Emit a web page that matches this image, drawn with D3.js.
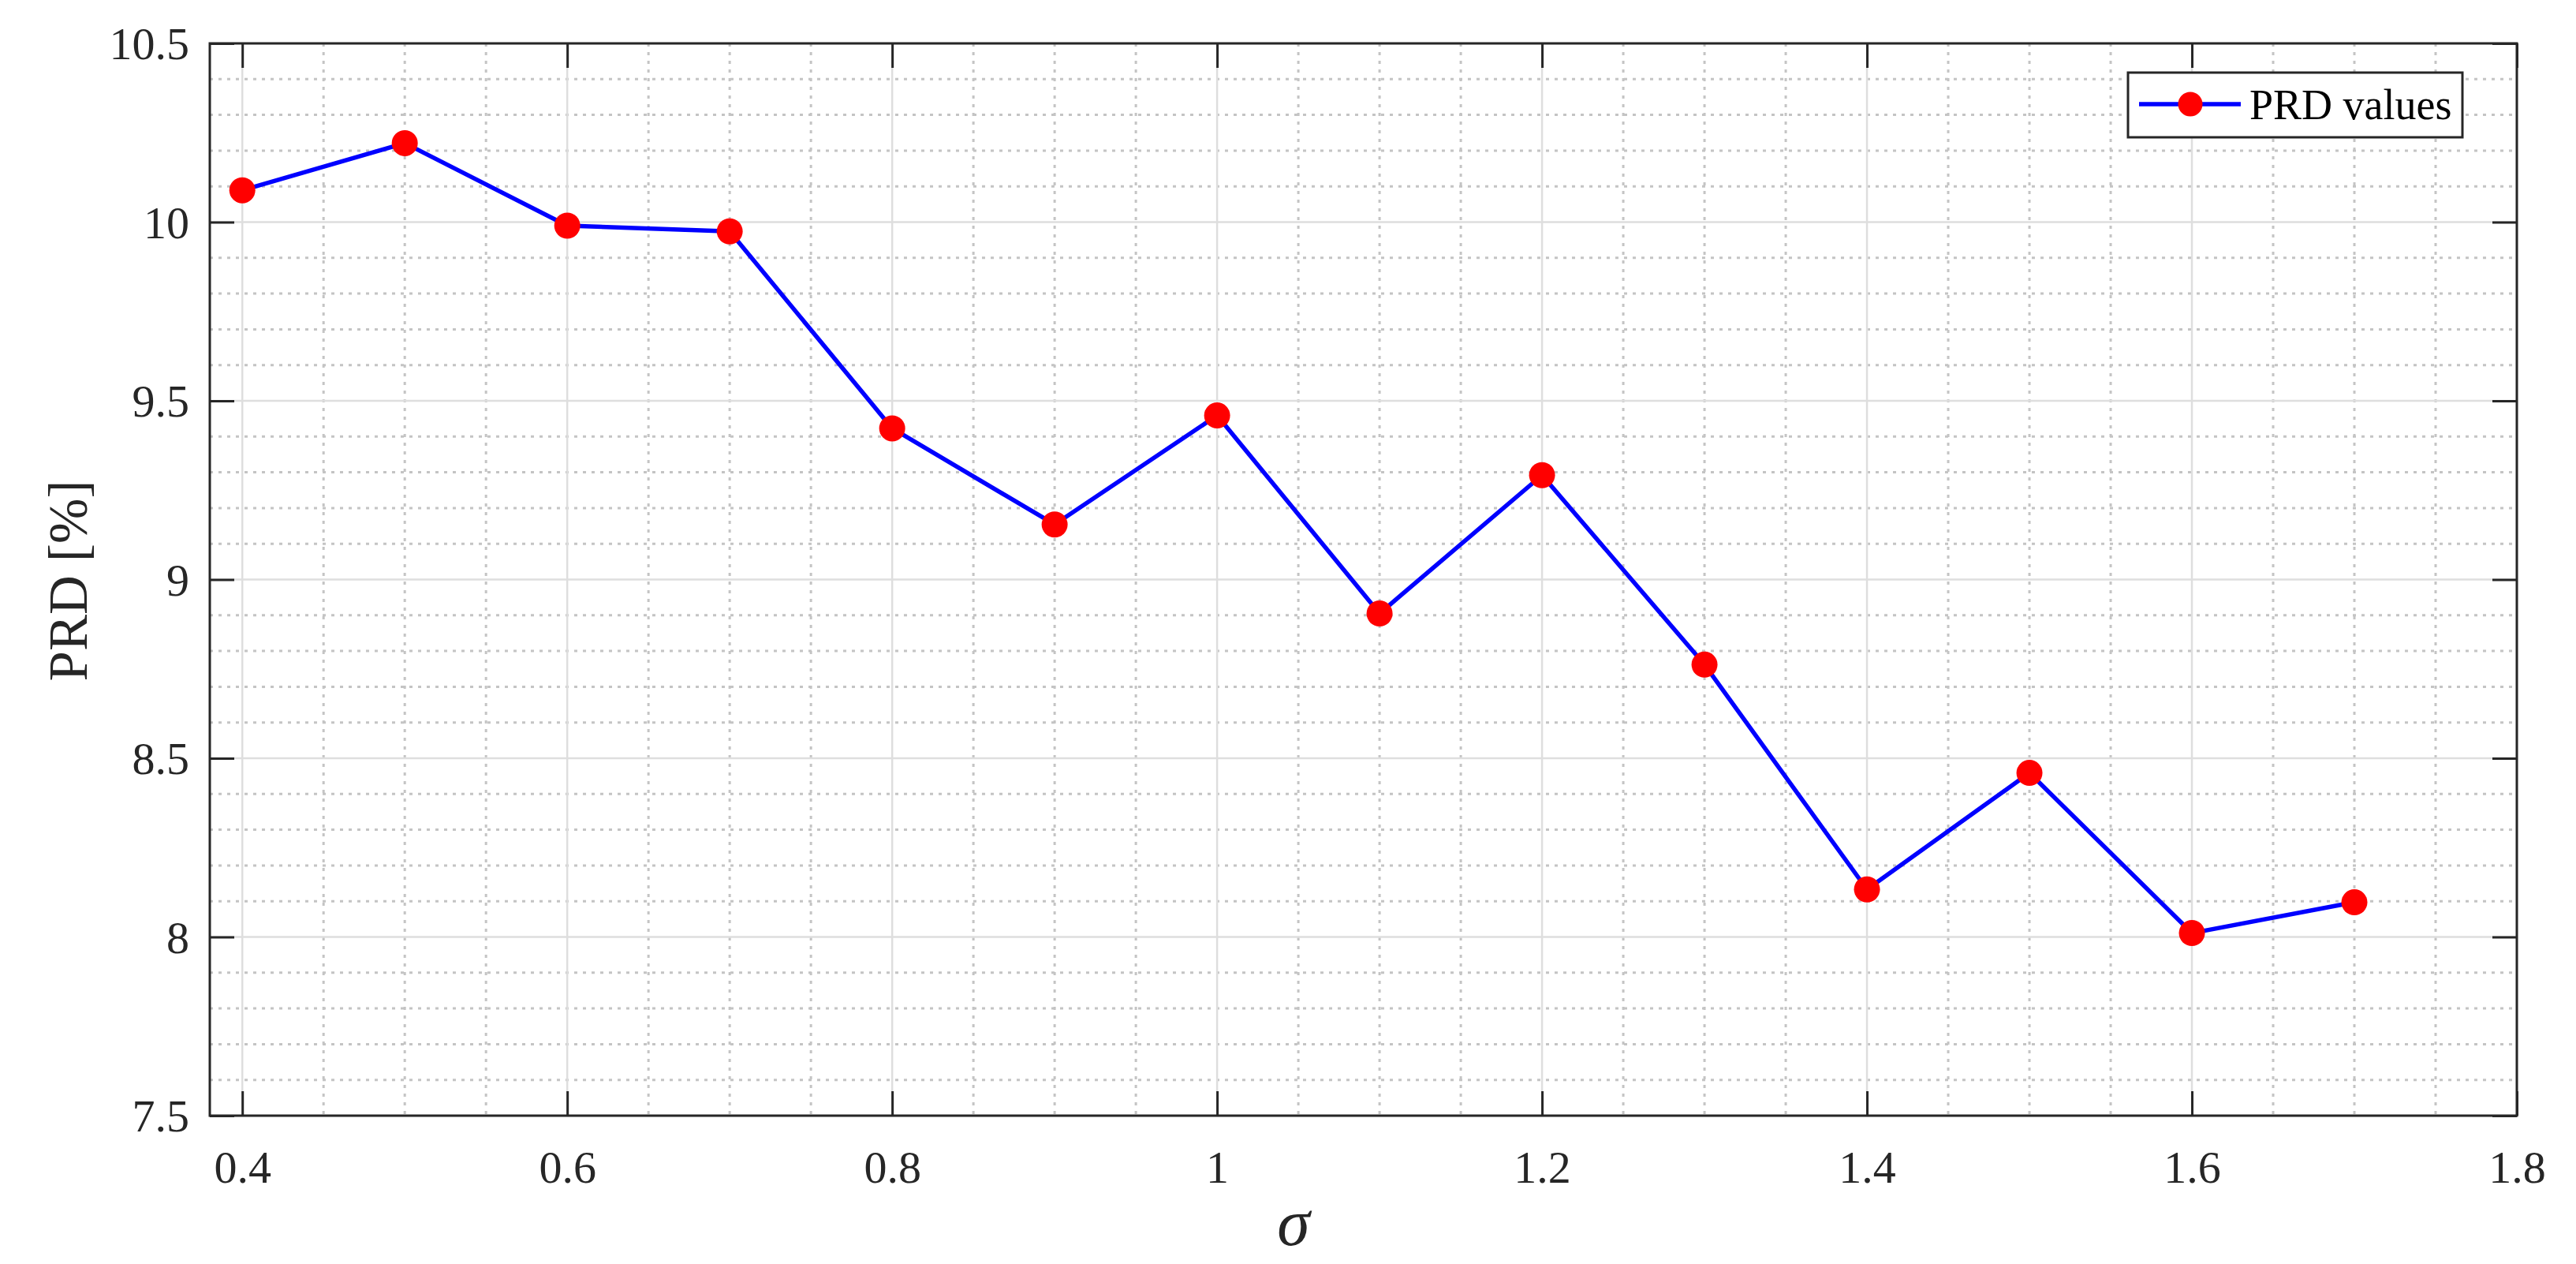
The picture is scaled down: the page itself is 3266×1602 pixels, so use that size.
<!DOCTYPE html>
<html>
<head>
<meta charset="utf-8">
<script src="https://cdn.jsdelivr.net/npm/d3@7"></script>
<style>
  html, body { margin: 0; padding: 0; background: #ffffff; }
  svg { display: block; }
</style>
</head>
<body>
<script>
// ---- data ----
const sigmaValues = [0.4, 0.5, 0.6, 0.7, 0.8, 0.9, 1.0, 1.1, 1.2, 1.3, 1.4, 1.5, 1.6, 1.7];
const prdValues   = [10.089, 10.221, 9.990, 9.974, 9.423, 9.154, 9.459, 8.905, 9.292, 8.762, 8.133, 8.459, 8.011, 8.097];
const xTicks = [0.4, 0.6, 0.8, 1.0, 1.2, 1.4, 1.6, 1.8];
const xTickLabels = ["0.4", "0.6", "0.8", "1", "1.2", "1.4", "1.6", "1.8"];
const yTicks = [7.5, 8, 8.5, 9, 9.5, 10, 10.5];
const yTickLabels = ["7.5", "8", "8.5", "9", "9.5", "10", "10.5"];
const xMinorTicks = [0.45,0.5,0.55,0.65,0.7,0.75,0.85,0.9,0.95,1.05,1.1,1.15,1.25,1.3,1.35,1.45,1.5,1.55,1.65,1.7,1.75];
const yMinorTicks = [7.6,7.7,7.8,7.9,8.1,8.2,8.3,8.4,8.6,8.7,8.8,8.9,9.1,9.2,9.3,9.4,9.6,9.7,9.8,9.9,10.1,10.2,10.3,10.4];
const seriesName = "PRD values";
const xLabel = "σ";
const yLabel = "PRD [%]";

// ---- layout ----
const W = 3266, H = 1602;
const m = { left: 266, top: 55, right: W - 3191, bottom: H - 1414 };
const iw = W - m.left - m.right, ih = H - m.top - m.bottom;
const ink = "#262626";
const font = "'Liberation Serif', 'Times New Roman', serif";

const svg = d3.select("body").append("svg").attr("width", W).attr("height", H);
const g = svg.append("g").attr("transform", `translate(${m.left},${m.top})`);

const x = d3.scaleLinear().domain([0.38, 1.8]).range([0, iw]);
const y = d3.scaleLinear().domain([7.5, 10.5]).range([ih, 0]);

// minor grid
g.append("g").selectAll("line").data(xMinorTicks).join("line")
  .attr("x1", d => x(d)).attr("x2", d => x(d)).attr("y1", 0).attr("y2", ih)
  .attr("stroke", "#c4c4c4").attr("stroke-width", 3).attr("stroke-dasharray", "4 7");
g.append("g").selectAll("line").data(yMinorTicks).join("line")
  .attr("y1", d => y(d)).attr("y2", d => y(d)).attr("x1", 0).attr("x2", iw)
  .attr("stroke", "#c4c4c4").attr("stroke-width", 3).attr("stroke-dasharray", "4 7");
// major grid
g.append("g").selectAll("line").data(xTicks).join("line")
  .attr("x1", d => x(d)).attr("x2", d => x(d)).attr("y1", 0).attr("y2", ih)
  .attr("stroke", "#dedede").attr("stroke-width", 2.5);
g.append("g").selectAll("line").data(yTicks).join("line")
  .attr("y1", d => y(d)).attr("y2", d => y(d)).attr("x1", 0).attr("x2", iw)
  .attr("stroke", "#dedede").attr("stroke-width", 2.5);

// axes
function styleAxis(sel) {
  sel.select(".domain").remove();
  sel.selectAll(".tick line").attr("stroke", ink).attr("stroke-width", 3);
  sel.selectAll(".tick text").attr("fill", ink).style("font-family", font).style("font-size", "58px");
}
const xAxis = g.append("g").attr("transform", `translate(0,${ih})`)
  .call(d3.axisBottom(x).tickValues(xTicks).tickFormat((d, i) => xTickLabels[i]).tickSizeInner(-31).tickSizeOuter(0))
  .call(styleAxis);
xAxis.selectAll(".tick text").attr("y", 85).attr("dy", "0");
g.append("g")
  .call(d3.axisTop(x).tickValues(xTicks).tickFormat("").tickSizeInner(-31).tickSizeOuter(0))
  .call(styleAxis);
const yAxis = g.append("g")
  .call(d3.axisLeft(y).tickValues(yTicks).tickFormat((d, i) => yTickLabels[i]).tickSizeInner(-31).tickSizeOuter(0))
  .call(styleAxis);
yAxis.selectAll(".tick text").attr("x", -26).attr("dy", "0.34em");
g.append("g").attr("transform", `translate(${iw},0)`)
  .call(d3.axisRight(y).tickValues(yTicks).tickFormat("").tickSizeInner(-31).tickSizeOuter(0))
  .call(styleAxis);

// frame
g.append("rect").attr("x", 0).attr("y", 0).attr("width", iw).attr("height", ih)
  .attr("fill", "none").attr("stroke", ink).attr("stroke-width", 3);

// series
const line = d3.line().x((d, i) => x(sigmaValues[i])).y(d => y(d));
g.append("path").datum(prdValues).attr("d", line)
  .attr("fill", "none").attr("stroke", "#0000ff").attr("stroke-width", 5.5).attr("stroke-linejoin", "round");
g.append("g").selectAll("circle").data(prdValues).join("circle")
  .attr("cx", (d, i) => x(sigmaValues[i])).attr("cy", d => y(d)).attr("r", 16.5).attr("fill", "#ff0000");

// axis labels
svg.append("text").attr("x", 1640).attr("y", 1578).attr("text-anchor", "middle")
  .style("font-family", font).style("font-style", "italic").style("font-size", "84px").attr("fill", ink)
  .text(xLabel);
svg.append("text").attr("transform", "translate(110,736) rotate(-90)").attr("text-anchor", "middle")
  .style("font-family", font).style("font-size", "69px").attr("fill", ink)
  .text(yLabel);

// legend
const lg = svg.append("g").attr("transform", "translate(2698,92)");
lg.append("rect").attr("width", 424).attr("height", 82).attr("fill", "#ffffff").attr("stroke", ink).attr("stroke-width", 3);
lg.append("line").attr("x1", 14).attr("x2", 143).attr("y1", 40).attr("y2", 40).attr("stroke", "#0000ff").attr("stroke-width", 5.5);
lg.append("circle").attr("cx", 79).attr("cy", 40).attr("r", 15.5).attr("fill", "#ff0000");
lg.append("text").attr("x", 154).attr("y", 40).attr("dy", "0.35em")
  .style("font-family", font).style("font-size", "54px").attr("fill", "#000000").text(seriesName);
</script>
</body>
</html>
